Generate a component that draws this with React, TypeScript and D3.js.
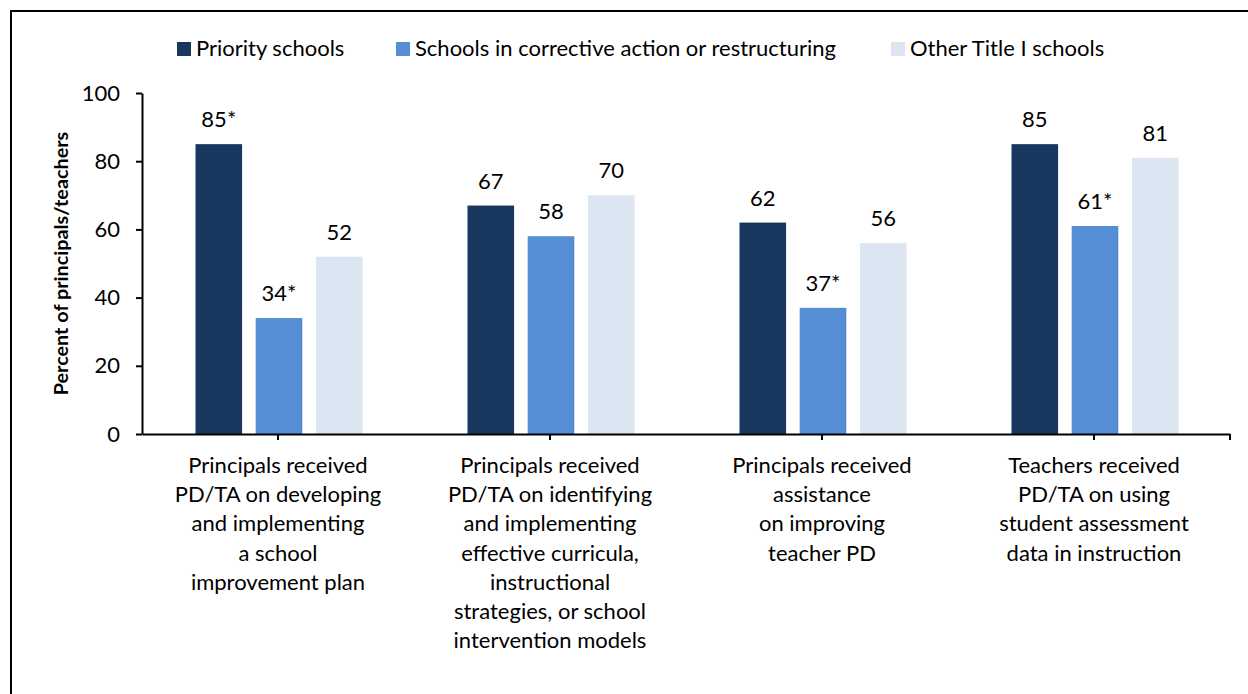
import { useRef, useEffect } from 'react'
import * as d3 from 'd3'

const groups = ['g1', 'g2', 'g3', 'g4']
const groupLabels = [
  ['Principals received', 'PD/TA on developing', 'and implementing', 'a school', 'improvement plan'],
  [
    'Principals received',
    'PD/TA on identifying',
    'and implementing',
    'effective curricula,',
    'instructional',
    'strategies, or school',
    'intervention models',
  ],
  ['Principals received', 'assistance', 'on improving', 'teacher PD'],
  ['Teachers received', 'PD/TA on using', 'student assessment', 'data in instruction'],
]
const seriesNames = ['Priority schools', 'Schools in corrective action or restructuring', 'Other Title I schools']
const priority = [85, 67, 62, 85]
const corrective = [34, 58, 37, 61]
const otherTitleI = [52, 70, 56, 81]
const priorityLabels = ['85*', '67', '62', '85']
const correctiveLabels = ['34*', '58', '37*', '61*']
const otherLabels = ['52', '70', '56', '81']
const yTicks = [0, 20, 40, 60, 80, 100]
const colors = ['#17375E', '#558ED5', '#DCE6F2']

const W = 1248
const H = 694
const FONT = 'Lato, "Open Sans", sans-serif'
const FS = '22px'

export default function App() {
  const svgRef = useRef<SVGSVGElement>(null)

  useEffect(() => {
    if (!svgRef.current) return
    const svg = d3.select(svgRef.current)
    svg.selectAll('*').remove()

    const plot = { left: 142, right: 1230, top: 93, bottom: 434 }

    // frame (right/bottom edges fall outside the picture)
    svg
      .append('rect')
      .attr('x', 11)
      .attr('y', 11)
      .attr('width', W + 20)
      .attr('height', H + 20)
      .attr('fill', 'none')
      .attr('stroke', '#000')
      .attr('stroke-width', 2)

    const series = [
      { name: seriesNames[0], values: priority, labels: priorityLabels },
      { name: seriesNames[1], values: corrective, labels: correctiveLabels },
      { name: seriesNames[2], values: otherTitleI, labels: otherLabels },
    ]

    const x0 = d3.scaleBand().domain(groups).range([plot.left, plot.right]).padding(0)
    const x1 = d3
      .scaleBand()
      .domain(seriesNames)
      .range([53.5, 220.5])
      .paddingInner(0.226)
    const y = d3.scaleLinear().domain([0, 100]).range([plot.bottom, plot.top])

    // Y axis
    const yAxis = svg
      .append('g')
      .attr('transform', `translate(${plot.left},0)`)
      .call(d3.axisLeft(y).tickValues(yTicks).tickSize(6).tickSizeOuter(0).tickPadding(16))
    yAxis.selectAll('path, line').attr('stroke', '#000').attr('stroke-width', 2)
    yAxis
      .selectAll('text')
      .attr('fill', '#000')
      .attr('font-family', FONT)
      .attr('font-size', FS)

    svg
      .append('text')
      .attr('transform', `translate(68,${(plot.top + plot.bottom) / 2}) rotate(-90)`)
      .attr('text-anchor', 'middle')
      .attr('font-family', FONT)
      .attr('font-weight', 'bold')
      .attr('font-size', '19.8px')
      .attr('fill', '#000')
      .text('Percent of principals/teachers')

    // Bars
    series.forEach((s, si) => {
      const gs = svg.append('g')
      gs.selectAll('rect')
        .data(s.values)
        .join('rect')
        .attr('x', (_, i) => (x0(groups[i]) ?? 0) + (x1(s.name) ?? 0))
        .attr('y', (d) => y(d))
        .attr('width', x1.bandwidth())
        .attr('height', (d) => y(0) - y(d))
        .attr('fill', colors[si])

      gs.selectAll('text')
        .data(s.values)
        .join('text')
        .attr('x', (_, i) => (x0(groups[i]) ?? 0) + (x1(s.name) ?? 0) + x1.bandwidth() / 2)
        .attr('y', (d) => y(d) - 17)
        .attr('text-anchor', 'middle')
        .attr('font-family', FONT)
        .attr('font-size', FS)
        .attr('fill', '#000')
        .text((_, i) => s.labels[i])
    })

    // X axis
    const xAxis = svg
      .append('g')
      .attr('transform', `translate(0,${plot.bottom})`)
      .call(d3.axisBottom(x0).tickSize(6).tickSizeOuter(0).tickFormat(() => ''))
    xAxis.selectAll('path, line').attr('stroke', '#000').attr('stroke-width', 2)
    xAxis
      .append('line')
      .attr('x1', plot.right)
      .attr('x2', plot.right)
      .attr('y1', 0)
      .attr('y2', 6)
      .attr('stroke', '#000')
      .attr('stroke-width', 2)

    // Category labels
    groups.forEach((g, gi) => {
      const cx = (x0(g) ?? 0) + x0.bandwidth() / 2
      svg
        .append('text')
        .attr('text-anchor', 'middle')
        .attr('font-family', FONT)
        .attr('font-size', FS)
        .attr('fill', '#000')
        .selectAll('tspan')
        .data(groupLabels[gi])
        .join('tspan')
        .attr('x', cx)
        .attr('y', (_, i) => 473 + i * 29.2)
        .text((d) => d)
    })

    // Legend
    const legendX = [177, 396, 891]
    seriesNames.forEach((name, i) => {
      svg
        .append('rect')
        .attr('x', legendX[i])
        .attr('y', 42)
        .attr('width', 14)
        .attr('height', 14)
        .attr('fill', colors[i])
      svg
        .append('text')
        .attr('x', legendX[i] + 19)
        .attr('y', 56)
        .attr('font-family', FONT)
        .attr('font-size', FS)
        .attr('fill', '#000')
        .text(name)
    })
  }, [])

  return (
    <div style={{ position: 'absolute', left: 0, top: 0, width: W, height: H, background: '#fff' }}>
      <svg ref={svgRef} width={W} height={H} style={{ display: 'block' }} />
    </div>
  )
}
